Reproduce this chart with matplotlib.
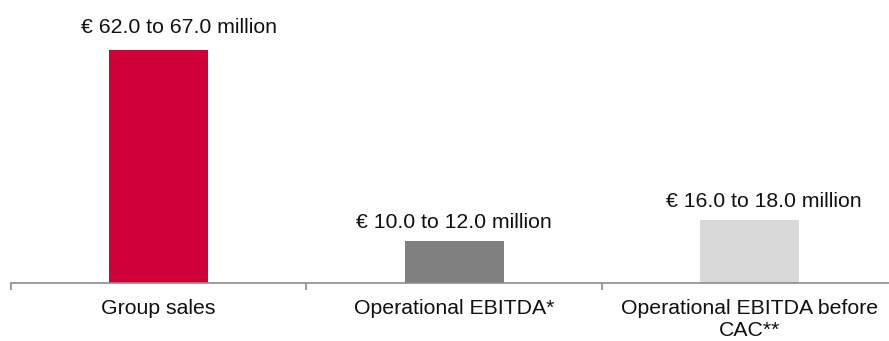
import numpy as np
import matplotlib.pyplot as plt

plt.rcParams['font.family'] = ['Liberation Sans', 'DejaVu Sans']

categories = ['Group sales', 'Operational EBITDA*', 'Operational EBITDA before\nCAC**']
values = [67.0, 12.0, 18.0]
labels = ['€ 62.0 to 67.0 million', '€ 10.0 to 12.0 million', '€ 16.0 to 18.0 million']
colors = ['#D0003A', '#808080', '#D9D9D9']

# label shifts in pixels (dx, dy above bar top to baseline)
label_shift = [(21, 17), (0, 13), (14, 13)]

fig = plt.figure(figsize=(8.89, 3.41), dpi=100)
ax = fig.add_axes([10.5 / 889, 58.3 / 341, 3 * 295.7 / 889, 282.7 / 341])

x = np.arange(len(categories))
bars = ax.bar(x, values, width=0.335, color=colors)

for b, lab, (dx, dy) in zip(bars, labels, label_shift):
    ax.annotate(lab, (b.get_x() + b.get_width() / 2, b.get_height()),
                xytext=(dx, dy), textcoords='offset pixels',
                ha='center', va='baseline', fontsize=15.3, color='#111111')

ax.set_xlim(-0.5, len(categories) - 0.5)
ax.set_ylim(0, 81.4)

for s in ['top', 'right', 'left']:
    ax.spines[s].set_visible(False)
ax.spines['bottom'].set_color('#8c8c8c')
ax.spines['bottom'].set_linewidth(1.2)

ax.set_yticks([])
ax.set_xticks(x)
ax.set_xticklabels(categories, fontsize=15.3, color='#111111', linespacing=1.15)
ax.tick_params(axis='x', which='major', length=0, pad=12)
ax.set_xticks(np.arange(len(categories) + 1) - 0.5, minor=True)
ax.tick_params(axis='x', which='minor', length=5, width=1.2, color='#8c8c8c')

fig.savefig('out.png', dpi=100)
